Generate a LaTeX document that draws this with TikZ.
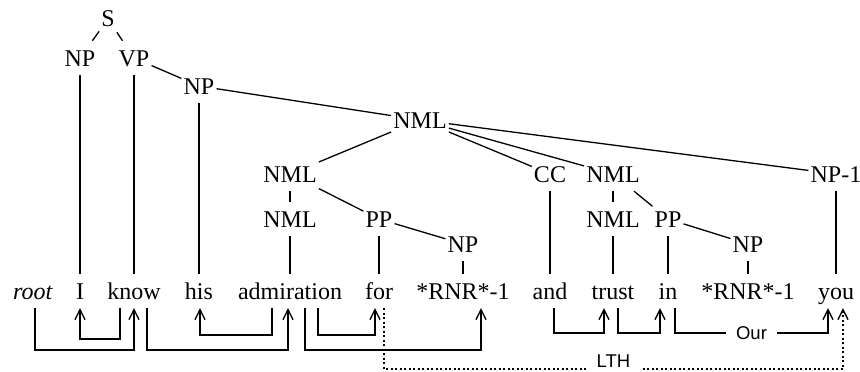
\documentclass[tikz,border=0pt]{standalone}
\usepackage{fontspec}
\setmainfont{Liberation Serif}
\setsansfont{Liberation Sans}
\usetikzlibrary{arrows.meta}
\begin{document}
\begin{tikzpicture}[x=1pt,y=-1pt,
  tlab/.style={font=\fontsize{24}{28}\selectfont, inner xsep=2pt, inner ysep=9pt, text height=16pt, text depth=0pt, anchor=base},
  word/.style={tlab, inner ysep=9pt},
  tedge/.style={line width=1.3pt},
  dep/.style={line width=1.35pt, -{Straight Barb[length=10pt,width=10pt]}},
  lthline/.style={dep, dash pattern=on 2pt off 2.5pt},
  deplab/.style={font=\sffamily\fontsize{18.5}{22}\selectfont, fill=white, inner xsep=10pt, inner ysep=1pt}
]
\useasboundingbox (0,0) rectangle (860,372);

% tree labels
\node[tlab] (S) at (108,27) {S};
\node[tlab] (np) at (80,66) {NP};
\node[tlab] (vp) at (134,66) {VP};
\node[tlab] (np2) at (199,94) {NP};
\node[tlab] (nml) at (420,128) {NML};
\node[tlab] (nmla) at (290,182) {NML};
\node[tlab] (nmlb) at (290,227) {NML};
\node[tlab] (ppa) at (379,227) {PP};
\node[tlab] (npa) at (463,252) {NP};
\node[tlab] (cc) at (550,182) {CC};
\node[tlab] (nmlc) at (613,182) {NML};
\node[tlab] (nmld) at (613,227) {NML};
\node[tlab] (ppb) at (668,227) {PP};
\node[tlab] (npb) at (748,252) {NP};
\node[tlab] (np1) at (836,182) {NP-1};

% words
\node[word] (wroot) at (33,299) {\textit{root}};
\node[word] (wI) at (80,299) {I};
\node[word] (wknow) at (134,299) {know};
\node[word] (whis) at (199,299) {his};
\node[word] (wadm) at (290,299) {admiration};
\node[word] (wfor) at (379,299) {for};
\node[word] (wrnra) at (463,299) {*RNR*-1};
\node[word] (wand) at (550,299) {and};
\node[word] (wtrust) at (613,299) {trust};
\node[word] (win) at (668,299) {in};
\node[word] (wrnrb) at (748,299) {*RNR*-1};
\node[word] (wyou) at (836,299) {you};

% tree edges
\draw[tedge] (S) -- (np);
\draw[tedge] (S) -- (vp);
\draw[tedge] (vp) -- (np2);
\draw[tedge] (np2) -- (nml);
\draw[tedge] (nml) -- (nmla);
\draw[tedge] (nml) -- (cc);
\draw[tedge] (nml) -- (nmlc);
\draw[tedge] (nml) -- (np1);
\draw[tedge] (nmla) -- (nmlb);
\draw[tedge] (nmla) -- (ppa);
\draw[tedge] (ppa) -- (npa);
\draw[tedge] (nmlc) -- (nmld);
\draw[tedge] (nmlc) -- (ppb);
\draw[tedge] (ppb) -- (npb);
\draw[tedge] (np) -- (wI);
\draw[tedge] (vp) -- (wknow);
\draw[tedge] (np2) -- (whis);
\draw[tedge] (nmlb) -- (wadm);
\draw[tedge] (ppa) -- (wfor);
\draw[tedge] (npa) -- (wrnra);
\draw[tedge] (cc) -- (wand);
\draw[tedge] (nmld) -- (wtrust);
\draw[tedge] (ppb) -- (win);
\draw[tedge] (npb) -- (wrnrb);
\draw[tedge] (np1) -- (wyou);

% levels
\coordinate (La) at (0,350);
\coordinate (Lb) at (0,339);
\coordinate (Lc) at (0,335);
\coordinate (Ld) at (0,333);
\coordinate (Le) at (0,369);

% tails and heads
\coordinate (t1) at ([xshift=2pt]wroot.south);   \coordinate (h1) at (wknow.south);
\coordinate (t2) at ([xshift=-14pt]wknow.south); \coordinate (h2) at (wI.south);
\coordinate (t3) at ([xshift=13pt]wknow.south);  \coordinate (h3) at ([xshift=-2pt]wadm.south);
\coordinate (t4) at ([xshift=-18pt]wadm.south);  \coordinate (h4) at ([xshift=1pt]whis.south);
\coordinate (t5) at ([xshift=15pt]wadm.south);   \coordinate (h5) at ([xshift=18pt]wrnra.south);
\coordinate (t6) at ([xshift=28pt]wadm.south);   \coordinate (h6) at ([xshift=-4pt]wfor.south);
\coordinate (t7) at ([xshift=5pt]wfor.south);    \coordinate (h7) at ([xshift=7pt]wyou.south);
\coordinate (t8) at ([xshift=4pt]wand.south);    \coordinate (h8) at ([xshift=-9pt]wtrust.south);
\coordinate (t9) at ([xshift=5pt]wtrust.south);  \coordinate (h9) at ([xshift=-8pt]win.south);
\coordinate (t10) at ([xshift=7pt]win.south);    \coordinate (h10) at ([xshift=-8pt]wyou.south);

% dependency arcs
\draw[dep] (t1) |- (h1 |- La) -- (h1);
\draw[dep] (t2) |- (h2 |- Lb) -- (h2);
\draw[dep] (t3) |- (h3 |- La) -- (h3);
\draw[dep] (t4) |- (h4 |- Lc) -- (h4);
\draw[dep] (t5) |- (h5 |- La) -- (h5);
\draw[dep] (t6) |- (h6 |- Lc) -- (h6);
\draw[dep] (t8) |- (h8 |- Ld) -- (h8);
\draw[dep] (t9) |- (h9 |- Ld) -- (h9);
\draw[dep] (t10) -- (t10 |- Ld) -- node[deplab, midway] (our) {Our} (h10 |- Ld) -- (h10);
\draw[lthline] (t7) -- (t7 |- Le) -- node[deplab, midway, anchor=base, yshift=1.5pt, inner ysep=2.5pt, text depth=0pt] (lth) {LTH} (h7 |- Le) -- (h7);
\end{tikzpicture}
\end{document}
